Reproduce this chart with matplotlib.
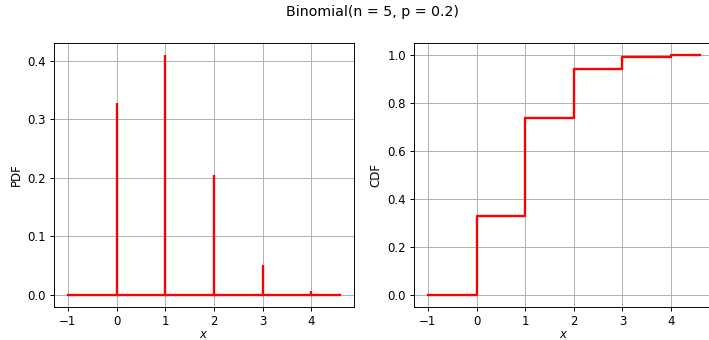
import matplotlib
matplotlib.use("Agg")
import matplotlib.pyplot as plt

# Binomial(n=5, p=0.2) values
x_support = [0, 1, 2, 3, 4, 5]
pdf_vals = [0.32768, 0.4096, 0.2048, 0.0512, 0.0064, 0.00032]
cdf_vals = [0.32768, 0.73728, 0.94208, 0.99328, 0.99968, 1.0]
x_min, x_max = -1.0, 4.6

# rendered at 85 dpi so default font sizes match the reference
DPI = 85
fig = plt.figure(figsize=(709 / DPI, 340 / DPI), dpi=DPI)
fig.suptitle("Binomial(n = 5, p = 0.2)", x=0.526, y=0.985)

ax1 = fig.add_axes([0.0766, 0.098, 0.4227, 0.775])
ax2 = fig.add_axes([0.5843, 0.098, 0.4227, 0.775])

# PDF: baseline plus vertical spikes
xs = [x for x in x_support if x <= x_max]
ax1.plot([x_min, x_max], [0, 0], c="red", lw=2)
ax1.vlines(xs, 0, pdf_vals[:len(xs)], colors="red", lw=2)
ax1.set_xlabel(r"$x$", labelpad=0)
ax1.set_ylabel("PDF")
ax1.set_xticks([-1, 0, 1, 2, 3, 4])
ax1.grid(True)
ax1.set_axisbelow(True)

# CDF: step function
sx = [x_min] + xs + [x_max]
sy = [0.0] + cdf_vals[:len(xs)] + [cdf_vals[len(xs) - 1]]
ax2.step(sx, sy, where="post", c="red", lw=2)
ax2.set_xlabel(r"$x$", labelpad=0)
ax2.set_ylabel("CDF")
ax2.set_xticks([-1, 0, 1, 2, 3, 4])
ax2.grid(True)
ax2.set_axisbelow(True)

fig.savefig("out.png", dpi=DPI)
